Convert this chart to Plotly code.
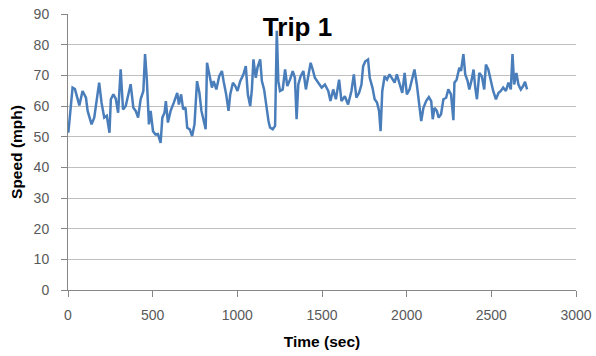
import plotly.graph_objects as go

# Trip 1 speed trace: time (s) and speed (mph)
time_sec = [2, 27, 41, 67, 86, 106, 116, 139, 155, 184, 198, 214, 229, 245, 253, 268, 282, 296,
            311, 325, 341, 357, 370, 386, 400, 414, 429, 445, 455, 465, 478, 488, 502, 517, 531,
            547, 557, 570, 578, 590, 606, 625, 645, 655, 668, 680, 694, 704, 719, 733, 747, 762,
            776, 788, 800, 813, 821, 836, 850, 860, 876, 893, 909, 919, 934, 948, 958, 974, 988,
            1001, 1017, 1036, 1050, 1062, 1076, 1086, 1095, 1109, 1119, 1135, 1145, 1158, 1170,
            1184, 1193, 1209, 1223, 1233, 1242, 1252, 1268, 1282, 1295, 1311, 1327, 1340, 1350,
            1360, 1374, 1390, 1405, 1419, 1433, 1445, 1458, 1478, 1498, 1517, 1537, 1550, 1566,
            1582, 1601, 1615, 1635, 1654, 1674, 1688, 1703, 1719, 1733, 1743, 1756, 1772, 1782,
            1798, 1811, 1825, 1837, 1846, 1856, 1870, 1884, 1899, 1915, 1929, 1942, 1958, 1974,
            1988, 2001, 2017, 2033, 2046, 2060, 2072, 2086, 2099, 2115, 2131, 2145, 2154, 2164,
            2178, 2189, 2203, 2217, 2233, 2246, 2262, 2276, 2282, 2295, 2311, 2321, 2335, 2346,
            2360, 2370, 2384, 2395, 2405, 2415, 2429, 2444, 2458, 2468, 2482, 2497, 2511, 2527,
            2543, 2556, 2570, 2586, 2601, 2615, 2625, 2635, 2648, 2660, 2674, 2688, 2699, 2711]
speed_mph = [51.3, 66.0, 65.5, 60.2, 64.9, 62.7, 58.4, 54.0, 56.2, 67.6, 61.1, 56.2, 56.8, 51.3,
             62.2, 63.8, 62.4, 57.8, 72.0, 58.9, 60.0, 63.8, 67.1, 59.4, 58.4, 56.2, 62.2, 64.9,
             76.9, 69.2, 54.0, 58.4, 51.8, 50.7, 50.9, 48.0, 56.2, 57.8, 61.6, 54.6, 58.4, 61.1,
             64.3, 60.5, 63.8, 58.9, 59.5, 52.9, 52.4, 50.2, 54.0, 68.1, 64.3, 58.4, 55.7, 52.4,
             74.1, 69.2, 66.0, 68.1, 65.4, 69.7, 71.4, 68.1, 63.8, 58.4, 63.8, 67.6, 66.5, 64.9,
             68.1, 70.3, 73.0, 63.8, 60.0, 65.4, 75.2, 69.2, 72.5, 75.2, 68.1, 65.4, 60.5, 55.1,
             53.0, 52.4, 53.5, 84.5, 68.1, 64.9, 65.4, 71.9, 66.5, 68.6, 71.4, 69.2, 55.7, 67.0,
             69.7, 71.4, 65.4, 69.2, 74.1, 71.9, 69.2, 67.6, 66.0, 67.0, 64.9, 61.6, 65.4, 62.2,
             68.6, 61.6, 63.2, 60.5, 64.9, 70.3, 62.7, 64.3, 67.0, 73.0, 74.6, 75.2, 69.2, 66.0,
             62.2, 61.1, 58.4, 51.8, 64.9, 69.7, 68.6, 70.3, 68.6, 67.6, 70.3, 67.0, 64.3, 70.8,
             63.8, 65.4, 69.2, 71.9, 67.0, 60.5, 55.1, 59.4, 61.6, 62.9, 61.6, 55.7, 59.4, 58.4,
             56.2, 57.3, 62.2, 62.7, 65.4, 63.8, 55.4, 67.6, 68.6, 72.5, 71.4, 76.9, 70.3, 68.1,
             65.4, 68.6, 71.9, 66.0, 62.2, 70.8, 69.7, 65.4, 73.5, 71.9, 68.1, 64.9, 62.2, 64.3,
             64.9, 66.0, 64.9, 67.6, 65.4, 76.9, 67.0, 70.8, 67.0, 65.4, 66.5, 67.9, 65.4]

x_ticks = [0, 500, 1000, 1500, 2000, 2500, 3000]
y_ticks = [0, 10, 20, 30, 40, 50, 60, 70, 80, 90]

FONT = "Liberation Sans, Arial, sans-serif"
tick_font = dict(family=FONT, size=14, color="#595959")
label_font = dict(family=FONT, size=15.5, color="#000000")

fig = go.Figure(
    go.Scatter(
        x=time_sec,
        y=speed_mph,
        mode="lines",
        line=dict(color="#4a7ebb", width=2.5),
        showlegend=False,
    )
)

fig.update_layout(
    width=596,
    height=356,
    margin=dict(l=68, r=20, t=14, b=66),
    paper_bgcolor="#ffffff",
    plot_bgcolor="#ffffff",
    title=dict(
        text="<b>Trip 1</b>",
        x=297.5 / 596,
        xanchor="center",
        y=1 - 27 / 356,
        yanchor="middle",
        font=dict(family=FONT, size=26, color="#000000"),
        automargin=False,
    ),
)

fig.update_xaxes(
    range=[0, 3000],
    tickvals=x_ticks,
    ticks="outside",
    ticklen=6,
    tickcolor="#868686",
    ticklabelstandoff=6,
    showline=True,
    linecolor="#868686",
    linewidth=1,
    showgrid=False,
    zeroline=False,
    automargin=False,
    tickfont=tick_font,
    title=dict(text="<b>Time (sec)</b>", font=label_font, standoff=14),
)

fig.update_yaxes(
    range=[0, 90],
    tickvals=y_ticks,
    ticks="outside",
    ticklen=6,
    tickcolor="#868686",
    ticklabelstandoff=9,
    showline=True,
    linecolor="#868686",
    linewidth=1,
    showgrid=True,
    gridcolor="#bfbfbf",
    gridwidth=1,
    zeroline=False,
    automargin=False,
    tickfont=tick_font,
    title=dict(text="<b>Speed (mph)</b>", font=label_font, standoff=7),
)

fig.write_html("out.html")
